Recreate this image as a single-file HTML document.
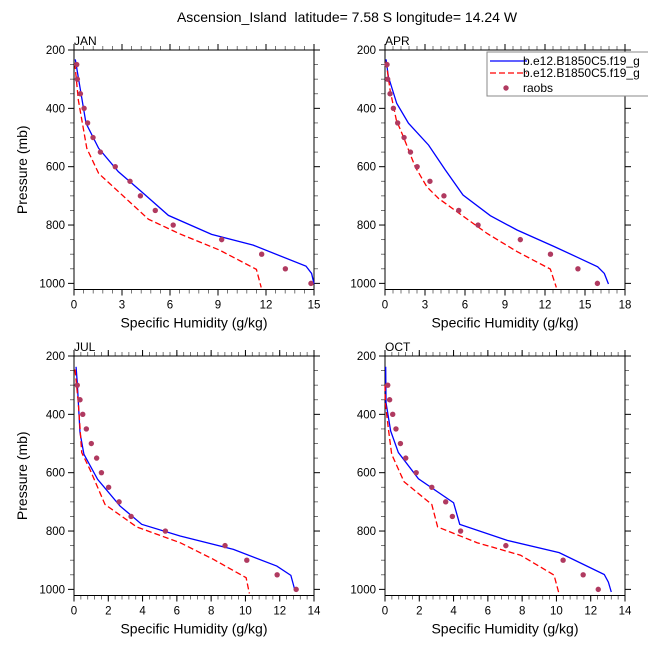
<!DOCTYPE html>
<html><head><meta charset="utf-8">
<style>
body{margin:0;background:#fff;}
svg{display:block;font-family:"Liberation Sans",Arial,sans-serif;}
</style></head>
<body>
<svg id="chart" width="648" height="648" viewBox="0 0 648 648" xmlns="http://www.w3.org/2000/svg">
<text x="347" y="22" font-size="14" text-anchor="middle" style="white-space:pre">Ascension_Island  latitude= 7.58 S longitude= 14.24 W</text>
</svg>
<script>
// JAN
const janBlueP=[232,451,537,617,691,767,832,869,941,966,1002];
const janBlueQ=[0.08,0.75,1.54,2.77,4.33,5.9,8.6,11.2,14.5,14.85,15];
const janRedP=[245,371,537,623,780,830,886,952,1014];
const janRedQ=[0.05,0.27,0.8,1.54,4.65,6.6,9.1,11.4,11.7];
const janObsP=[250,300,350,400,450,500,550,600,650,700,750,800,850,900,950,1000];
const janObsQ=[0.17,0.21,0.4,0.63,0.85,1.19,1.65,2.58,3.5,4.15,5.08,6.2,9.23,11.73,13.21,14.81];
// APR
const aprBlueP=[232,291,383,451,526,611,697,768,817,874,911,943,966,1002];
const aprBlueQ=[0.08,0.25,0.88,1.76,3.27,4.52,5.85,7.9,9.9,12.7,14.45,15.95,16.45,16.76];
const aprRedP=[240,337,440,500,600,669,709,771,829,891,951,1014];
const aprRedQ=[0.08,0.38,0.85,1.4,2.26,3.14,4.02,5.9,7.66,9.9,12.4,12.85];
const aprObsP=[250,300,350,400,450,500,550,600,650,700,750,800,850,900,950,1000];
const aprObsQ=[0.15,0.2,0.38,0.63,0.95,1.43,1.91,2.41,3.37,4.42,5.53,6.98,10.15,12.41,14.47,15.93];
// JUL
const julBlueP=[237,291,463,537,623,714,777,817,863,920,952,1006];
const julBlueQ=[0.12,0.19,0.35,0.58,1.38,2.68,3.95,6.19,9.3,11.83,12.65,12.9];
const julRedP=[246,360,531,589,709,786,840,897,960,1014];
const julRedQ=[0.06,0.25,0.45,0.93,1.81,3.66,6.19,8.13,10.04,10.23];
const julObsP=[300,350,400,450,500,550,600,650,700,750,800,850,900,950,1000];
const julObsQ=[0.19,0.35,0.51,0.72,1.01,1.32,1.6,2.02,2.63,3.33,5.33,8.81,10.08,11.85,12.96];
// OCT
const octBlueP=[237,360,457,531,621,703,777,832,874,949,975,1009];
const octBlueQ=[0.04,0.06,0.33,0.78,1.95,4.0,4.36,7.13,10.16,12.79,13.03,13.2];
const octRedP=[300,360,451,537,631,709,786,840,883,951,1017];
const octRedQ=[0.0,0.02,0.2,0.39,1.11,2.73,3.07,5.37,7.91,9.86,10.16];
const octObsP=[300,350,400,450,500,550,600,650,700,750,800,850,900,950,1000];
const octObsQ=[0.16,0.27,0.45,0.64,0.9,1.21,1.82,2.73,3.54,3.93,4.41,7.05,10.39,11.56,12.44];

const pTicks=[200,400,600,800,1000];
const janX=[0,3,6,9,12,15], aprX=[0,3,6,9,12,15,18], julX=[0,2,4,6,8,10,12,14], octX=[0,2,4,6,8,10,12,14];

const NS="http://www.w3.org/2000/svg";
const svg=document.getElementById('chart');
function mk(tag,attrs,parent){const e=document.createElementNS(NS,tag);for(const k in attrs)e.setAttribute(k,attrs[k]);(parent||svg).appendChild(e);return e;}

function panel(name,left,top,xmax,xt,minorStep,bP,bQ,rP,rQ,oP,oQ,showY){
  const W=240,pTop=200,pBot=1021,H=239.5;
  const g=mk('g',{});
  
  
  const X=q=>left+q/xmax*W;
  const Y=p=>top+(p-pTop)/(pBot-pTop)*H;
  for(let p=250;p<=1000;p+=50){ if(p%200===0) continue;
    mk('line',{x1:left-4,x2:left,y1:Y(p),y2:Y(p),stroke:'#555','stroke-width':0.8},g);
    mk('line',{x1:left+W,x2:left+W+4,y1:Y(p),y2:Y(p),stroke:'#555','stroke-width':0.8},g);}
  for(let q=0;q<=xmax+1e-6;q+=minorStep){
    mk('line',{x1:X(q),x2:X(q),y1:top+H,y2:top+H+4,stroke:'#555','stroke-width':0.8},g);
    mk('line',{x1:X(q),x2:X(q),y1:top-4,y2:top,stroke:'#555','stroke-width':0.8},g);}
  pTicks.forEach(p=>{
    mk('line',{x1:left-6,x2:left,y1:Y(p),y2:Y(p),stroke:'#000','stroke-width':1},g);
    mk('line',{x1:left+W,x2:left+W+6,y1:Y(p),y2:Y(p),stroke:'#000','stroke-width':1},g);
    const t=mk('text',{x:left-9,y:Y(p)+4,'font-size':11.5,'text-anchor':'end'},g);t.textContent=p;
    
    
  });
  xt.forEach(q=>{
    mk('line',{x1:X(q),x2:X(q),y1:top+H,y2:top+H+6,stroke:'#000','stroke-width':1},g);
    mk('line',{x1:X(q),x2:X(q),y1:top-6,y2:top,stroke:'#000','stroke-width':1},g);
    const t=mk('text',{x:X(q),y:top+H+19,'font-size':11.5,'text-anchor':'middle'},g);t.textContent=q;
    
    
  });
  const box=mk('rect',{x:left,y:top,width:W,height:H,fill:'none',stroke:'#000','stroke-width':1},g);
  
  
  const lb=mk('text',{x:left,y:top-5,'font-size':12},g);lb.textContent=name.toUpperCase();
  
  
  const xl=mk('text',{x:left+W/2,y:top+H+38,'font-size':14,'text-anchor':'middle'},g);xl.textContent='Specific Humidity (g/kg)';
  
  
  if(showY){const yl=mk('text',{x:0,y:0,'font-size':14,'text-anchor':'middle',transform:`translate(27,${top+H/2}) rotate(-90)`},g);yl.textContent='Pressure (mb)';
    
    }
  const bl=mk('polyline',{points:bP.map((p,i)=>X(bQ[i])+','+Y(p)).join(' '),fill:'none',stroke:'#0000ff','stroke-width':1.3},g);
  
  
  const rl=mk('polyline',{points:rP.map((p,i)=>X(rQ[i])+','+Y(p)).join(' '),fill:'none',stroke:'#ff0000','stroke-width':1.3,'stroke-dasharray':'6,3'},g);
  
  
  oP.forEach((p,i)=>{const c=mk('circle',{cx:X(oQ[i]),cy:Y(p),r:2.7,fill:'#b03a60'},g);
    
    });
}
panel('jan',74,50,15,janX,0.6,janBlueP,janBlueQ,janRedP,janRedQ,janObsP,janObsQ,true);
panel('apr',385,50,18,aprX,0.6,aprBlueP,aprBlueQ,aprRedP,aprRedQ,aprObsP,aprObsQ,false);
panel('jul',74,356,14,julX,0.4,julBlueP,julBlueQ,julRedP,julRedQ,julObsP,julObsQ,true);
panel('oct',385,356,14,octX,0.4,octBlueP,octBlueQ,octRedP,octRedQ,octObsP,octObsQ,false);

const lg=mk('g',{});


mk('rect',{x:487,y:52,width:170,height:44,fill:'#fff',stroke:'#888','stroke-width':1},lg);
mk('line',{x1:490,x2:527,y1:61,y2:61,stroke:'#0000ff','stroke-width':1.3},lg);
mk('line',{x1:490,x2:527,y1:73,y2:73,stroke:'#ff0000','stroke-width':1.3,'stroke-dasharray':'6,3'},lg);
mk('circle',{cx:506,cy:88,r:2.7,fill:'#b03a60'},lg);
const lt=[['b.e12.B1850C5.f19_g',65],['b.e12.B1850C5.f19_g',77],['raobs',92]];
lt.forEach(([s,y])=>{const t=mk('text',{x:523,y:y,'font-size':12},lg);t.textContent=s;
  
  });
</script>
</body></html>
